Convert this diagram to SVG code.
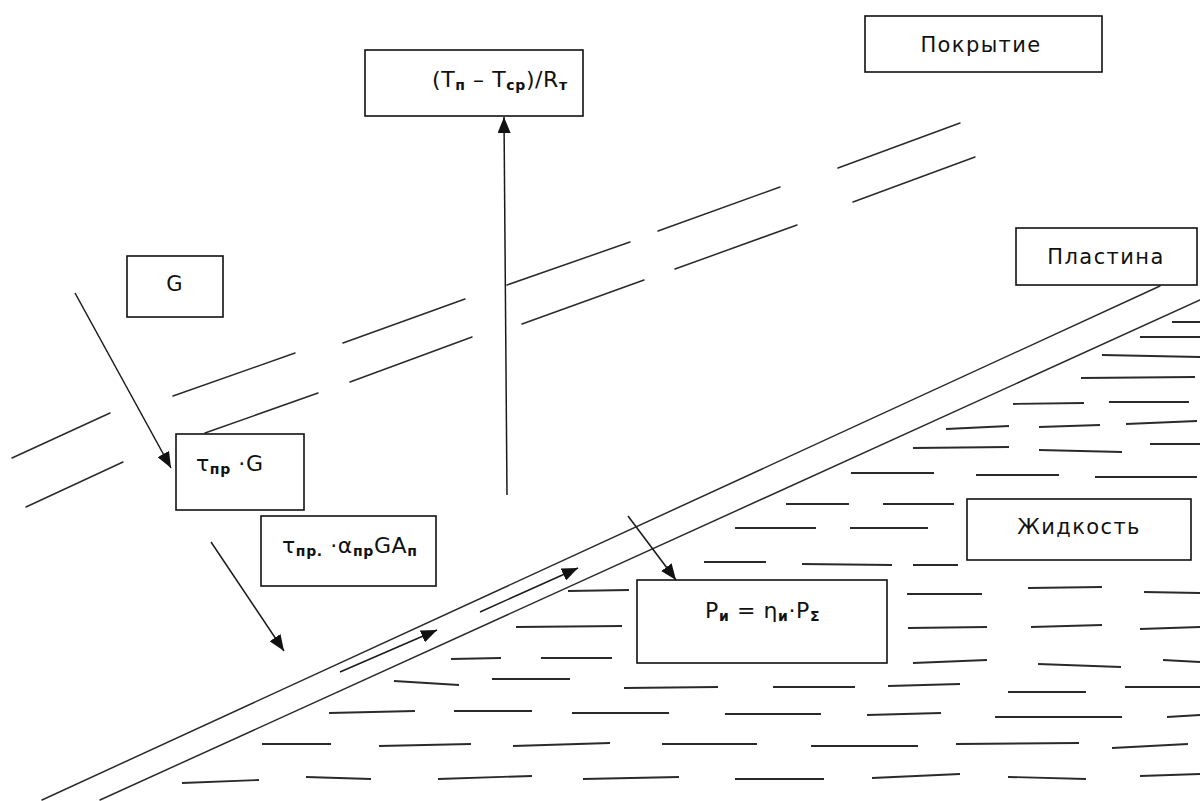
<svg xmlns="http://www.w3.org/2000/svg" width="1200" height="801" viewBox="0 0 1200 801">
<style>
.bg{fill:#fff}
.box{fill:#fff;stroke:#111;stroke-width:1.6}
.ln{stroke:#2a2a2a;stroke-width:1.5;fill:none;stroke-linecap:round}
.h{stroke:#2a2a2a;stroke-width:1.8;fill:none}
.ar{stroke:#1a1a1a;stroke-width:1.5;fill:none;marker-end:url(#ah)}
.t{font-family:"DejaVu Sans","Liberation Sans",sans-serif;font-size:21px;fill:#111;letter-spacing:1.4px}
.f{font-family:"DejaVu Sans","Liberation Sans",sans-serif;font-size:22px;fill:#111;letter-spacing:0.6px}
.s{font-size:14px;font-weight:bold}
</style>
<defs>
<marker id="ah" markerUnits="userSpaceOnUse" markerWidth="17" markerHeight="13" refX="16" refY="6.5" orient="auto">
<path d="M0,0 L16,6.5 L0,13 z" fill="#111"/>
</marker>
</defs>
<rect class="bg" x="0" y="0" width="1200" height="801"/>

<g id="coating">
<path class="ln" d="M12,458 L110,413 M173,396 L295,353 M343,343 L465,299 M507,285 L630,242 M658,231 L780,187 M838,168 L960,123"/>
<path class="ln" d="M26,507 L123,462 M205,433 L318,393 M350,382 L472,337 M522,324 L644,280 M675,269 L797,225 M853,202 L975,157"/>
</g>

<g id="plate">
<path class="ln" d="M1160,286 L42,800"/>
<path class="ln" d="M1200,300 L100,800"/>
</g>

<g id="liquid">
<path class="h" d="M1172,322 L1200,322 M1140,337 L1200,337 M1102,355 L1200,357 M1081,378 L1195,377
M1013,404 L1084,403 M1109,402 L1189,402
M946,429 L1009,426 M1039,427 L1100,425 M1126,424 L1197,421
M913,448 L1009,447 M1039,450 L1122,452 M1150,444 L1200,444
M851,473 L934,473 M976,475 L1059,475 M1095,477 L1197,477
M786,504 L849,504 M883,504 L954,504
M735,528 L816,528 M850,528 L928,528
M704,562 L766,562 M802,564 L892,565 M913,565 L958,565
M568,591 L629,590 M907,594 L982,594 M1028,588 L1102,587 M1144,592 L1200,593
M516,627 L622,626 M908,628 L987,627 M1031,627 L1102,625 M1140,629 L1200,627
M451,659 L501,658 M541,658 L612,658 M913,663 L987,660 M1038,664 L1121,667 M1163,660 L1200,662
M394,681 L459,685 M492,679 L570,679 M624,688 L718,687 M773,687 L855,687 M888,686 L960,684 M1008,692 L1086,692 M1125,687 L1200,687
M329,713 L415,711 M454,711 L532,711 M572,713 L669,713 M725,714 L821,714 M867,715 L941,713 M995,717 L1122,717 M1167,717 L1200,715
M262,744 L331,744 M379,746 L471,744 M513,746 L610,743 M662,744 L757,744 M811,746 L918,746 M956,744 L1079,743 M1112,748 L1188,744
M182,783 L259,780 M306,777 L371,779 M438,779 L532,776 M583,779 L679,777 M735,779 L824,779 M872,778 L960,774 M1008,777 L1086,779 M1140,776 L1200,774"/>
</g>

<g id="connectors">
<line class="ar" x1="507" y1="495" x2="504" y2="117"/>
<line class="ar" x1="75" y1="293" x2="171" y2="468"/>
<line class="ar" x1="211" y1="542" x2="284" y2="651"/>
<line class="ar" x1="628" y1="516" x2="676" y2="580"/>
<line class="ar" x1="340" y1="672" x2="437" y2="630"/>
<line class="ar" x1="480" y1="612" x2="578" y2="568"/>
</g>

<g id="node-heatflux">
<rect class="box" x="365" y="50" width="218" height="66"/>
<text class="f" x="432" y="87">(T<tspan class="s" dy="3">п</tspan><tspan dy="-3"> – T</tspan><tspan class="s" dy="3">ср</tspan><tspan dy="-3">)/R</tspan><tspan class="s" dy="3">т</tspan></text>
</g>

<g id="node-coating">
<rect class="box" x="865" y="16" width="237" height="56"/>
<text class="t" x="981" y="52" text-anchor="middle">Покрытие</text>
</g>

<g id="node-plate">
<rect class="box" x="1016" y="228" width="181" height="57"/>
<text class="t" x="1106" y="264" text-anchor="middle">Пластина</text>
</g>

<g id="node-G">
<rect class="box" x="127" y="256" width="96" height="61"/>
<text class="t" x="175" y="291" text-anchor="middle">G</text>
</g>

<g id="node-tauG">
<rect class="box" x="176" y="434" width="128" height="76"/>
<text class="f" x="196" y="471">τ<tspan class="s" dy="3">пр</tspan><tspan dy="-3"> ·G</tspan></text>
</g>

<g id="node-tauAlpha">
<rect class="box" x="261" y="516" width="175" height="70"/>
<text class="f" x="282" y="553">τ<tspan class="s" dy="3">пр.</tspan><tspan dy="-3"> ·α</tspan><tspan class="s" dy="3">пр</tspan><tspan dy="-3">GA</tspan><tspan class="s" dy="3">п</tspan></text>
</g>

<g id="node-power">
<rect class="box" x="637" y="580" width="250" height="83"/>
<text class="f" x="705" y="618">P<tspan class="s" dy="3">и</tspan><tspan dy="-3"> = η</tspan><tspan class="s" dy="3">и</tspan><tspan dy="-3">·P</tspan><tspan class="s" dy="3">Σ</tspan></text>
</g>

<g id="node-liquid">
<rect class="box" x="967" y="499" width="224" height="61"/>
<text class="t" x="1079" y="534" text-anchor="middle">Жидкость</text>
</g>
</svg>
